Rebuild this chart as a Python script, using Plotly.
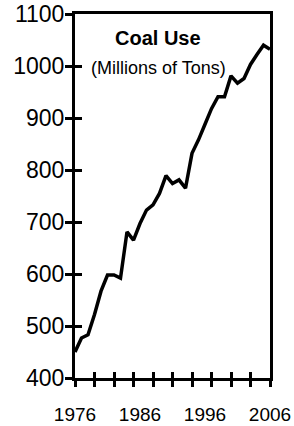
import plotly.graph_objects as go

years = list(range(1976, 2007))
coal_use = [450, 477, 483, 522, 567, 598, 598, 592, 681, 665,
            697, 723, 733, 755, 789, 774, 781, 765, 832, 858,
            888, 918, 941, 941, 981, 967, 976, 1003, 1022, 1040,
            1032]

x_minor_ticks = list(range(1976, 2007, 3))
x_label_vals = [1976, 1986, 1996, 2006]
x_label_text = ["1976", "1986", "1996", "2006"]
title_text = "Coal Use"
subtitle_text = "(Millions of Tons)"

FONT = "Liberation Sans, Arial, sans-serif"

fig = go.Figure()
# helper (invisible) traces so the overlay axes get drawn
fig.add_trace(go.Scatter(x=years, y=coal_use, xaxis="x2", yaxis="y2",
                         mode="lines", opacity=0, line=dict(width=0),
                         hoverinfo="skip", showlegend=False))
fig.add_trace(go.Scatter(x=years, y=coal_use, xaxis="x3", yaxis="y",
                         mode="lines", opacity=0, line=dict(width=0),
                         hoverinfo="skip", showlegend=False))
fig.add_trace(go.Scatter(x=years, y=coal_use, mode="lines",
                         line=dict(color="black", width=3.5),
                         hoverinfo="skip", showlegend=False))

xr = [1976, 2006]
yr = [400, 1100]

fig.update_layout(
    width=294, height=426,
    margin=dict(l=75, r=24, t=14, b=48),
    paper_bgcolor="white", plot_bgcolor="white",
    font=dict(family=FONT, color="black"),
    xaxis=dict(range=xr, tickvals=x_minor_ticks, ticks="outside", ticklen=6,
               tickwidth=3, tickcolor="black", showticklabels=False,
               showline=True, linewidth=3, linecolor="black", mirror=True,
               showgrid=False, zeroline=False, automargin=False),
    xaxis2=dict(range=xr, overlaying="x", anchor="y", side="bottom",
                tickvals=x_minor_ticks, ticks="inside", ticklen=6, tickwidth=3,
                tickcolor="black", showticklabels=False, showline=False,
                showgrid=False, zeroline=False, automargin=False),
    xaxis3=dict(range=xr, overlaying="x", anchor="y", side="bottom",
                tickvals=x_label_vals, ticktext=x_label_text, ticks="",
                tickfont=dict(size=19, family=FONT, color="black"),
                ticklabelstandoff=23, ticklabeloverflow="allow",
                showline=False, showgrid=False,
                zeroline=False, automargin=False),
    yaxis=dict(range=yr, dtick=100, tick0=400, ticks="outside", ticklen=7,
               tickwidth=3, tickcolor="black",
               tickfont=dict(size=23, family=FONT, color="black"),
               ticklabelstandoff=-4, ticklabeloverflow="allow",
               showline=True, linewidth=3, linecolor="black", mirror=True,
               showgrid=False, zeroline=False, automargin=False),
    yaxis2=dict(range=yr, overlaying="y", anchor="x", side="left", dtick=100,
                tick0=400, ticks="inside", ticklen=7, tickwidth=3,
                tickcolor="black", showticklabels=False, showline=False,
                showgrid=False, zeroline=False, automargin=False),
    annotations=[
        dict(text="<b>" + title_text + "</b>", xref="paper", yref="paper",
             x=0.426, y=0.934, showarrow=False, xanchor="center",
             yanchor="middle", font=dict(size=20, family=FONT, color="black")),
        dict(text=subtitle_text, xref="paper", yref="paper",
             x=0.426, y=0.852, showarrow=False, xanchor="center",
             yanchor="middle", font=dict(size=18, family=FONT, color="black")),
    ],
)

fig.write_html("out.html", config={"displayModeBar": False},
               post_script="document.body.style.margin='0px';")
